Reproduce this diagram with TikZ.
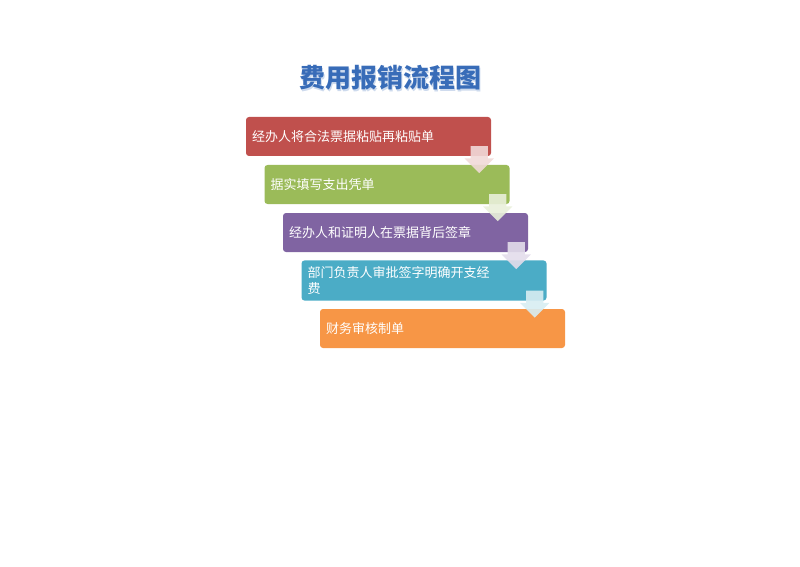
\documentclass[tikz,border=0pt]{standalone}
\usepackage{fontspec}
\newfontfamily\cjk{Noto Sans CJK SC}
\usetikzlibrary{shapes.arrows,calc}

\begin{document}
\begin{tikzpicture}[x=1pt,y=1pt,
  stepbox/.style={rectangle,rounded corners=3pt,minimum width=245pt,minimum height=39pt,
    text width=233pt,inner sep=6pt,align=left,text=white,font=\cjk\fontsize{13}{16}\selectfont},
  downarrow/.style={single arrow,rotate=-90,minimum height=27pt,minimum width=29pt,
    single arrow head extend=6pt,single arrow tip angle=90,inner xsep=0pt,inner ysep=8.5pt,draw=none}]
  % colors
  \definecolor{kTitle}{RGB}{56,108,184}
  \definecolor{kRed}{RGB}{192,80,77}
  \definecolor{kGreen}{RGB}{155,187,89}
  \definecolor{kPurple}{RGB}{128,100,162}
  \definecolor{kAqua}{RGB}{75,172,198}
  \definecolor{kOrange}{RGB}{247,150,70}
  \useasboundingbox (0,0) rectangle (800,566);
  % title
  \node[text=kTitle!25,font=\cjk\bfseries\fontsize{26}{30}\selectfont] (tshadow) at (391,486.5) {费用报销流程图};
  \node[text=kTitle,font=\cjk\bfseries\fontsize{26}{30}\selectfont] (title) at (390,488) {费用报销流程图};
  % steps
  \foreach \i/\c/\t in {1/kRed/经办人将合法票据粘贴再粘贴单,2/kGreen/据实填写支出凭单,
      3/kPurple/经办人和证明人在票据背后签章,4/kAqua/{部门负责人审批签字明确开支经\\费},5/kOrange/财务审核制单} {
    \node[stepbox,fill=\c] (b\i) at (350+18.5*\i,477.5-48*\i) {\t};
  };
  % arrows
  \foreach \i/\c in {1/kRed,2/kGreen,3/kPurple,4/kAqua} {
    \node[downarrow,fill=\c!22!white,opacity=0.9] (a\i) at ($(b\i.south east)+(-12,1)$) {};
  };
\end{tikzpicture}
\end{document}
